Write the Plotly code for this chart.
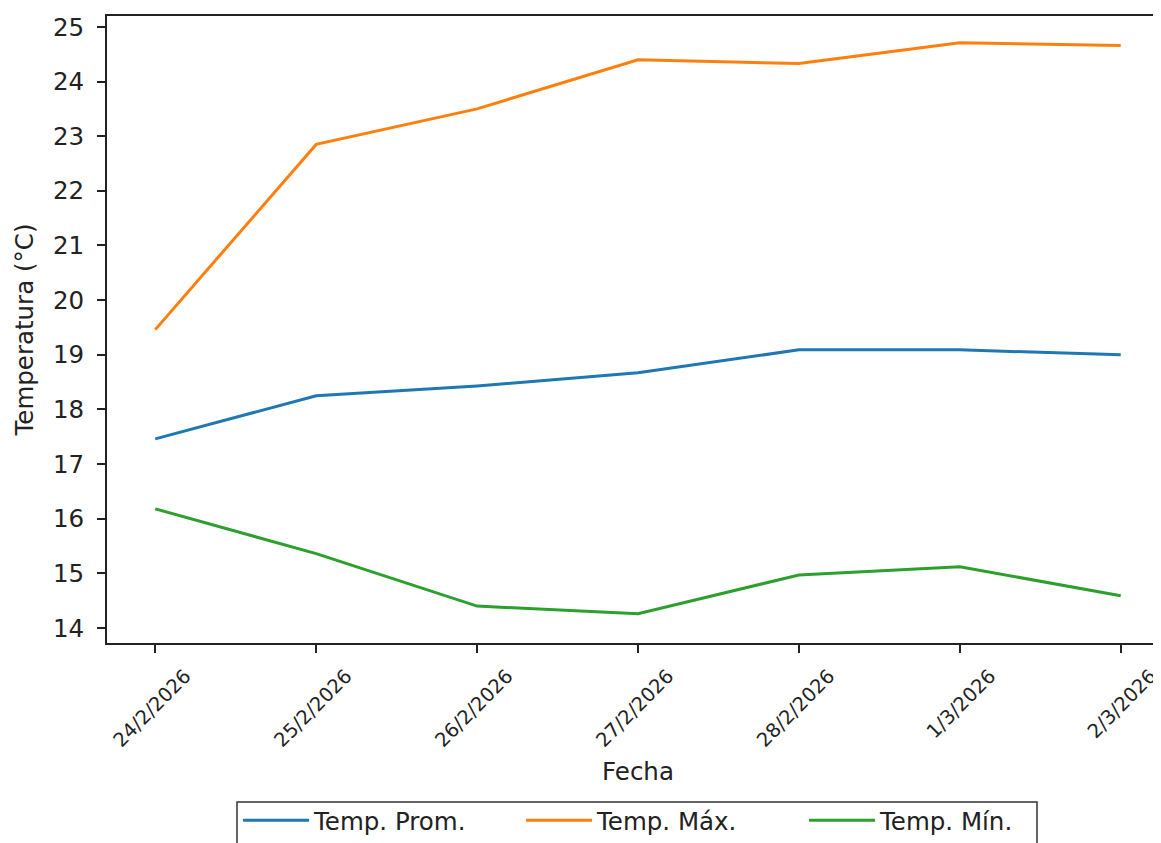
import plotly.graph_objects as go

fechas = ["24/2/2026", "25/2/2026", "26/2/2026", "27/2/2026", "28/2/2026", "1/3/2026", "2/3/2026"]
temp_prom = [17.46, 18.25, 18.43, 18.67, 19.09, 19.09, 19.00]
temp_max = [19.46, 22.85, 23.50, 24.40, 24.33, 24.71, 24.66]
temp_min = [16.18, 15.36, 14.40, 14.26, 14.97, 15.12, 14.59]

series = [
    ("Temp. Prom.", temp_prom, "#1f77b4"),
    ("Temp. Máx.", temp_max, "#ff7f0e"),
    ("Temp. Mín.", temp_min, "#2ca02c"),
]

FONT = "DejaVu Sans"
MAIN = 24.5
fig = go.Figure()
for name, vals, color in series:
    fig.add_trace(go.Scatter(
        x=list(range(len(fechas))), y=vals, mode="lines", name=name,
        line=dict(color=color, width=3),
    ))

# legend frame (drawn as a shape so its width matches the reference)
fig.add_shape(
    type="rect", xref="paper", yref="paper",
    x0=0.1224, x1=0.8757, y0=-0.40, y1=-0.2536,
    line=dict(color="#333", width=1.5), fillcolor="rgba(0,0,0,0)",
)

fig.update_layout(
    width=1161, height=843,
    margin=dict(l=99, r=0, t=8, b=208),
    paper_bgcolor="white", plot_bgcolor="white",
    font=dict(family=FONT, color="#222", size=MAIN),
    showlegend=True,
    legend=dict(
        orientation="h", x=0.1234, xanchor="left", y=-0.247, yanchor="top",
        borderwidth=0, font=dict(size=MAIN, family=FONT),
        itemwidth=66, entrywidth=202, entrywidthmode="pixels",
        bgcolor="rgba(0,0,0,0)",
    ),
    xaxis=dict(
        range=[-0.3, 6.3],
        tickmode="array", tickvals=list(range(len(fechas))), ticktext=fechas,
        tickangle=-45, tickfont=dict(size=19.5, family=FONT),
        ticks="outside", ticklen=8, tickwidth=2, tickcolor="#222",
        ticklabelshift=30, ticklabelstandoff=4,
        showline=True, linecolor="#222", linewidth=2, mirror=True,
        showgrid=False, zeroline=False,
        title=dict(text="Fecha", font=dict(size=MAIN, family=FONT), standoff=12),
    ),
    yaxis=dict(
        range=[13.725, 25.2],
        tickmode="array", tickvals=list(range(14, 26)),
        tickfont=dict(size=MAIN, family=FONT),
        ticks="outside", ticklen=8, tickwidth=2, tickcolor="#222",
        ticklabelstandoff=8,
        showline=True, linecolor="#222", linewidth=2, mirror=False,
        showgrid=False, zeroline=False,
        title=dict(text="Temperatura (°C)", font=dict(size=MAIN, family=FONT), standoff=12),
    ),
)

fig.write_html("out.html")
